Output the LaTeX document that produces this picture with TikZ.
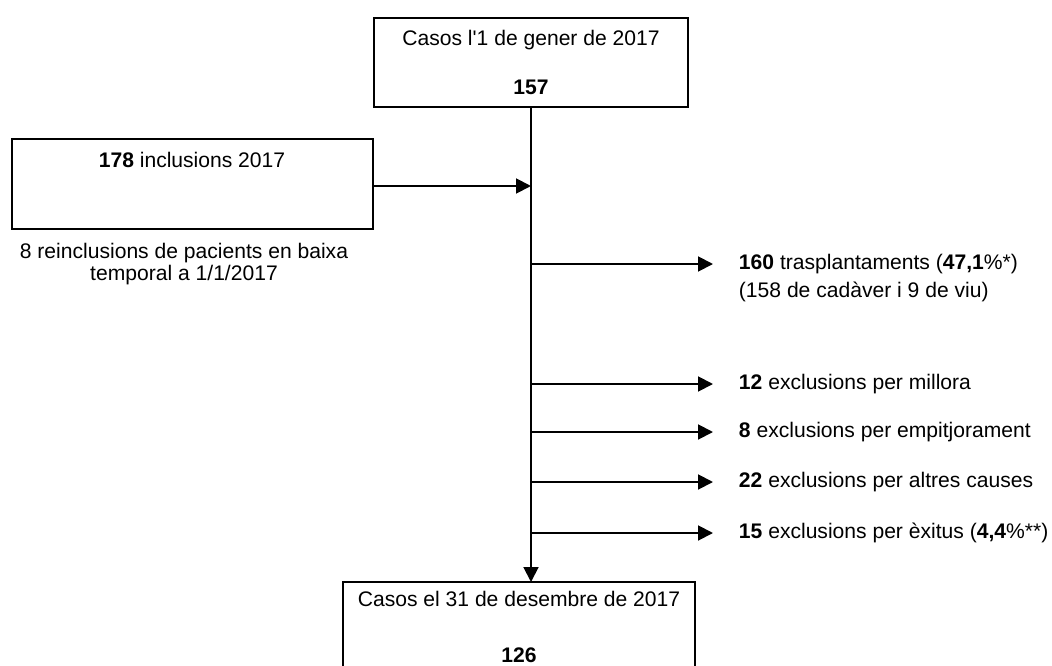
\documentclass[tikz,border=0pt]{standalone}
\usepackage{fontspec}
\setmainfont{Liberation Sans}
\usetikzlibrary{arrows.meta}

\begin{document}
\begin{tikzpicture}[x=0.02cm,y=-0.02cm,line width=1.1pt,
  caixa/.style={draw,align=center,inner sep=0pt},
  fletxa/.style={-{Triangle[length=8.5pt,width=8.5pt]}},
  every node/.style={font=\fontsize{12}{14}\selectfont}]
\useasboundingbox (0,0) rectangle (1052,666);
\node[caixa,minimum width=6.28cm,minimum height=1.78cm] (gener) at (531,62.5) {Casos l\textquotesingle1 de gener de 2017\\[14.3pt]\textbf{157}};
\node[caixa,minimum width=7.22cm,minimum height=1.8cm] (incl) at (192.5,184) {};
\node (incltxt) at (192,160) {\textbf{178} inclusions 2017};
\node[align=center,font=\fontsize{12}{13}\selectfont] (reincl) at (184,264) {8 reinclusions de pacients en baixa\\temporal a 1/1/2017};
\node[caixa,minimum width=7.04cm,minimum height=1.8cm] (desembre) at (519,627) {Casos el 31 de desembre de 2017\\[17.7pt]\textbf{126}};
\coordinate (entrada) at (531,186);
\coordinate (b1) at (531,264);
\coordinate (b2) at (531,384);
\coordinate (b3) at (531,432);
\coordinate (b4) at (531,482);
\coordinate (b5) at (531,533);
\coordinate (e1) at (713,264);
\coordinate (e2) at (713,384);
\coordinate (e3) at (713,432);
\coordinate (e4) at (713,482);
\coordinate (e5) at (713,533);
\node[anchor=west,align=left,inner sep=0pt,font=\fontsize{12}{16.3}\selectfont] (trasp) at (738,278) {\textbf{160} trasplantaments (\textbf{47,1}\%*)\\(158 de cadàver i 9 de viu)};
\node[anchor=west,inner sep=0pt] (millora) at (738,384) {\textbf{12} exclusions per millora};
\node[anchor=west,inner sep=0pt] (empit) at (738,432) {\textbf{8} exclusions per empitjorament};
\node[anchor=west,inner sep=0pt] (altres) at (738,482) {\textbf{22} exclusions per altres causes};
\node[anchor=west,inner sep=0pt] (exitus) at (738,533) {\textbf{15} exclusions per èxitus (\textbf{4,4}\%**)};
\draw[fletxa] (gener.south) -- (531,582);
\draw[fletxa] (incl.east |- entrada) -- (entrada);
\draw[fletxa] (b1) -- (e1);
\draw[fletxa] (b2) -- (e2);
\draw[fletxa] (b3) -- (e3);
\draw[fletxa] (b4) -- (e4);
\draw[fletxa] (b5) -- (e5);
\end{tikzpicture}
\end{document}
